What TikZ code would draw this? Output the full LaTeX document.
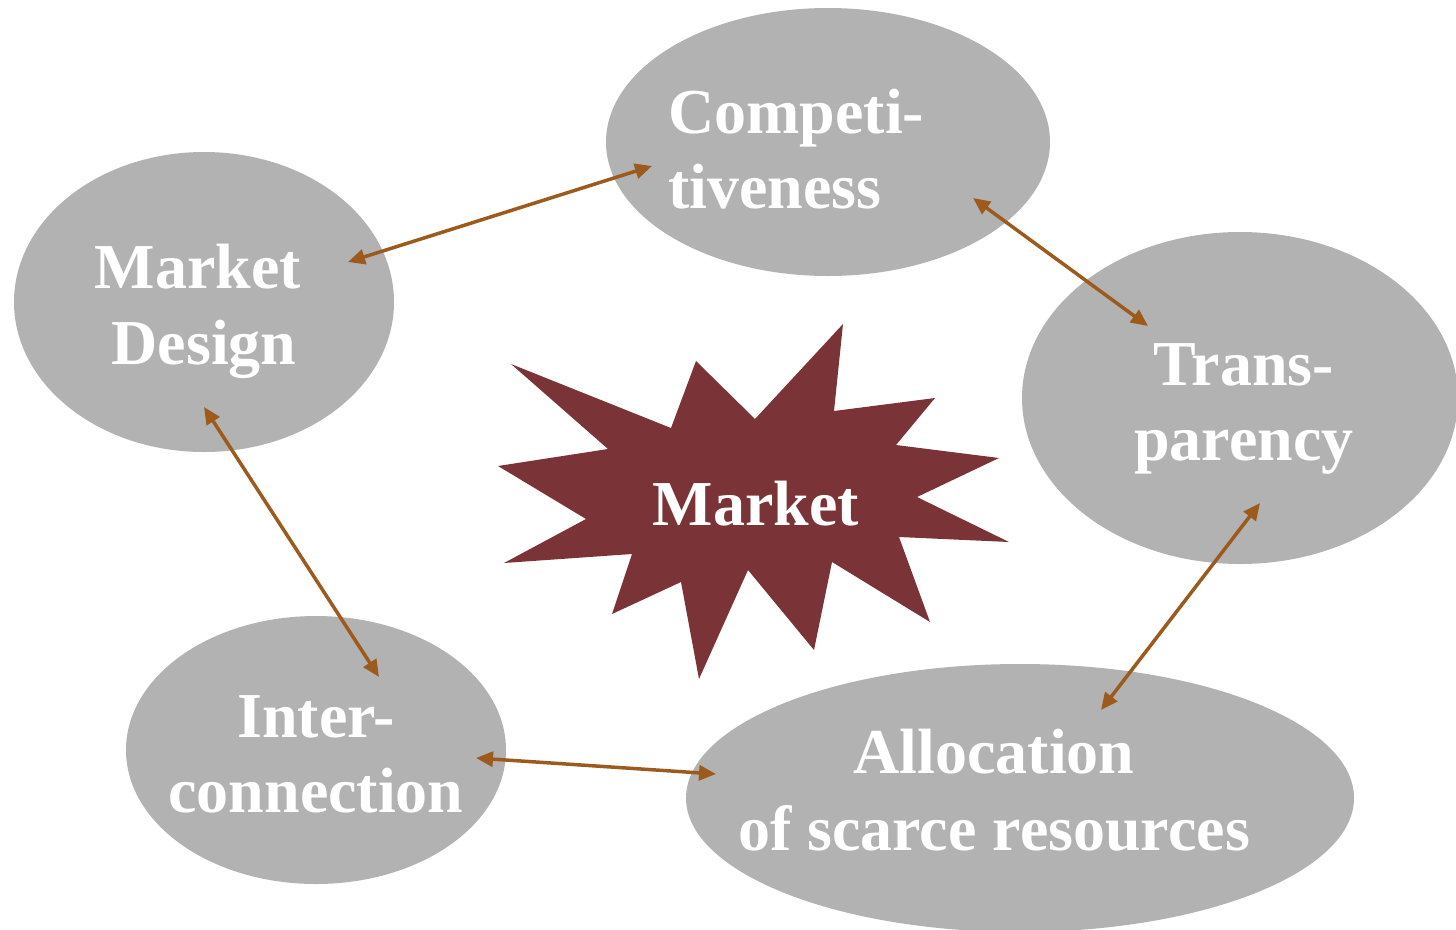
\documentclass[tikz,border=0pt]{standalone}
\usepackage{fontspec}
\setmainfont{Liberation Serif}
\usetikzlibrary{arrows.meta,shapes.geometric}
\definecolor{ellgray}{RGB}{178,178,178}
\definecolor{starred}{RGB}{122,52,55}
\definecolor{arrbrown}{RGB}{156,91,28}
\begin{document}
\begin{tikzpicture}[x=1pt,y=-1pt,
  bubble/.style={ellipse, fill=ellgray, inner sep=0pt},
  lbl/.style={text=white, font=\fontsize{64}{76}\selectfont\bfseries, inner sep=0pt},
  link/.style={draw=arrbrown, line width=3.5pt, {Triangle[length=17pt,width=15pt,fill=arrbrown]}-{Triangle[length=17pt,width=15pt,fill=arrbrown]}}]
\useasboundingbox (0,0) rectangle (1456,929);
% bubbles
\node[bubble, minimum width=444pt, minimum height=268pt] (comp) at (828,142) {};
\node[bubble, minimum width=380pt, minimum height=300pt] (design) at (204,302) {};
\node[bubble, minimum width=436pt, minimum height=332pt] (trans) at (1240,398) {};
\node[bubble, minimum width=380pt, minimum height=268pt] (inter) at (316,750) {};
\node[bubble, minimum width=668pt, minimum height=268pt] (alloc) at (1020,798) {};
% star
\fill[starred] (511,364) -- (671,428) -- (696,361) -- (755,419) -- (843,324) -- (834,411)
  -- (935,398) -- (896,445) -- (999,458) -- (917,497) -- (1009,542) -- (899,537)
  -- (930,622) -- (832,562) -- (814,650) -- (748,570) -- (699,679) -- (681,582)
  -- (612,614) -- (632,554) -- (504,563) -- (586,519) -- (498,466) -- (608,449) -- cycle;
% arrow end points
\coordinate (d1) at (348,262); \coordinate (c1) at (652,166);
\coordinate (c2) at (973,198); \coordinate (t1) at (1148,326);
\coordinate (t2) at (1260,503); \coordinate (a1) at (1101,710);
\coordinate (d2) at (204,407); \coordinate (i1) at (379,677);
\coordinate (i2) at (476,758); \coordinate (a2) at (716,774);
\draw[link] (d1) -- (c1);
\draw[link] (c2) -- (t1);
\draw[link] (t2) -- (a1);
\draw[link] (d2) -- (i1);
\draw[link] (i2) -- (a2);
% labels
\node[lbl, anchor=base west] (comp-l1) at (668,133) {Competi-};
\node[lbl, anchor=base west] (comp-l2) at (668,208) {tiveness};
\node[lbl, anchor=base] (design-l1) at (198,288) {Market};
\node[lbl, anchor=base] (design-l2) at (204,364) {Design};
\node[lbl, anchor=base] (trans-l1) at (1244,385) {Trans-};
\node[lbl, anchor=base] (trans-l2) at (1244,460) {parency};
\node[lbl, anchor=base] (inter-l1) at (316,737) {Inter-};
\node[lbl, anchor=base] (inter-l2) at (316,812) {connection};
\node[lbl, anchor=base] (alloc-l1) at (994,773) {Allocation};
\node[lbl, anchor=base] (alloc-l2) at (994,850) {of scarce resources};
\node[lbl, anchor=base] (market) at (756,525) {Market};
\end{tikzpicture}
\end{document}
